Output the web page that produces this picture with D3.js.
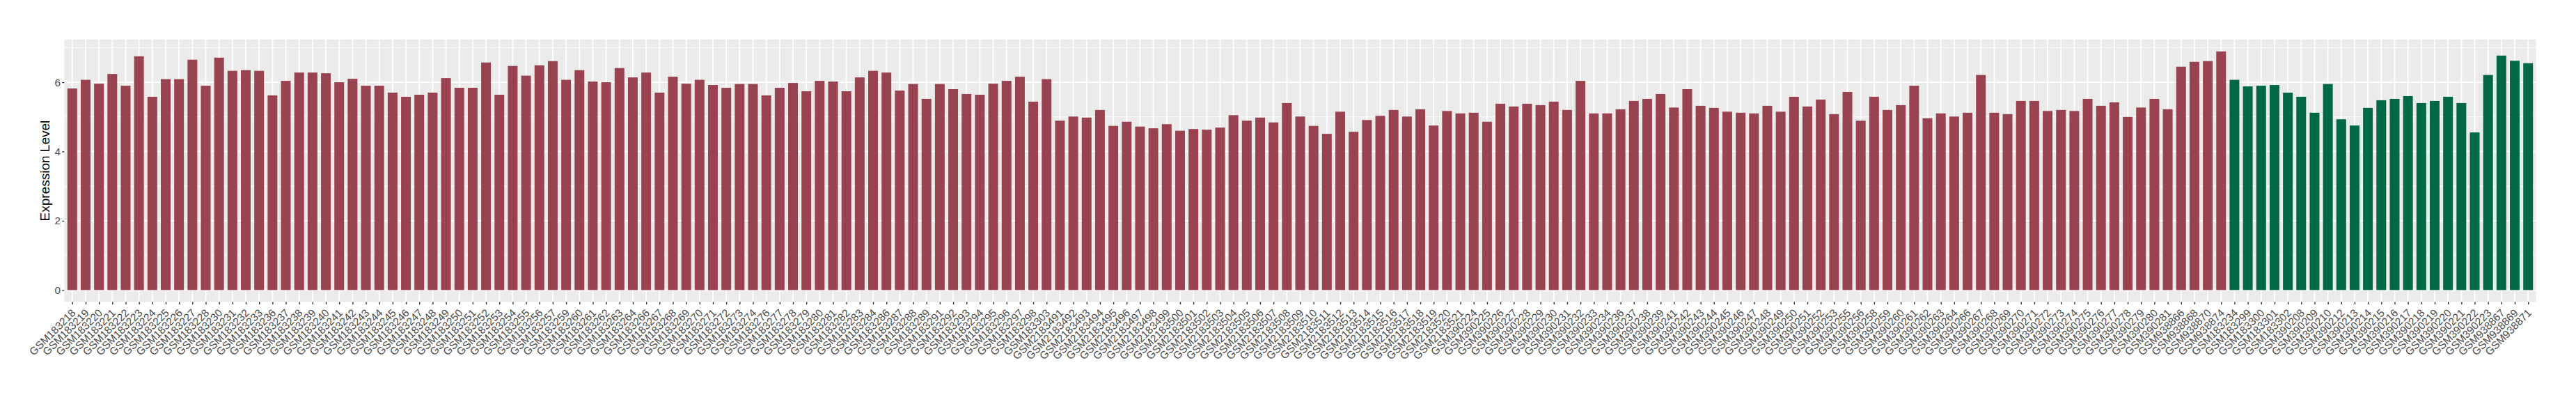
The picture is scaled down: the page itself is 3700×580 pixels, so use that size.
<!DOCTYPE html>
<html>
<head>
<meta charset="utf-8">
<script src="https://cdn.jsdelivr.net/npm/d3@7"></script>
<style>
  html, body { margin: 0; padding: 0; background: #ffffff; }
  svg { display: block; font-family: "Liberation Sans", Arial, Helvetica, sans-serif; }
</style>
</head>
<body>
<script>
// ---- Data ----
const redSamples = [
  "GSM183218","GSM183219","GSM183220","GSM183221","GSM183222","GSM183223","GSM183224","GSM183225","GSM183226","GSM183227",
  "GSM183228","GSM183230","GSM183231","GSM183232","GSM183233","GSM183236","GSM183237","GSM183238","GSM183239","GSM183240",
  "GSM183241","GSM183242","GSM183243","GSM183244","GSM183245","GSM183246","GSM183247","GSM183248","GSM183249","GSM183250",
  "GSM183251","GSM183252","GSM183253","GSM183254","GSM183255","GSM183256","GSM183257","GSM183259","GSM183260","GSM183261",
  "GSM183262","GSM183263","GSM183264","GSM183266","GSM183267","GSM183268","GSM183269","GSM183270","GSM183271","GSM183272",
  "GSM183273","GSM183274","GSM183276","GSM183277","GSM183278","GSM183279","GSM183280","GSM183281","GSM183282","GSM183283",
  "GSM183284","GSM183286","GSM183287","GSM183288","GSM183289","GSM183291","GSM183292","GSM183293","GSM183294","GSM183295",
  "GSM183296","GSM183297","GSM183298","GSM183303","GSM2183491","GSM2183492","GSM2183493","GSM2183494","GSM2183495","GSM2183496",
  "GSM2183497","GSM2183498","GSM2183499","GSM2183500","GSM2183501","GSM2183502","GSM2183503","GSM2183504","GSM2183505","GSM2183506",
  "GSM2183507","GSM2183508","GSM2183509","GSM2183510","GSM2183511","GSM2183512","GSM2183513","GSM2183514","GSM2183515","GSM2183516",
  "GSM2183517","GSM2183518","GSM2183519","GSM2183520","GSM2183521","GSM390224","GSM390225","GSM390226","GSM390227","GSM390228",
  "GSM390229","GSM390230","GSM390231","GSM390232","GSM390233","GSM390234","GSM390236","GSM390237","GSM390238","GSM390239",
  "GSM390241","GSM390242","GSM390243","GSM390244","GSM390245","GSM390246","GSM390247","GSM390248","GSM390249","GSM390250",
  "GSM390251","GSM390252","GSM390253","GSM390255","GSM390256","GSM390258","GSM390259","GSM390260","GSM390261","GSM390262",
  "GSM390263","GSM390264","GSM390266","GSM390267","GSM390268","GSM390269","GSM390270","GSM390271","GSM390272","GSM390273",
  "GSM390274","GSM390275","GSM390276","GSM390277","GSM390278","GSM390279","GSM390280","GSM390281","GSM938866","GSM938868",
  "GSM938870","GSM938874"
];
const redValues = [
  5.82,6.07,5.96,6.24,5.90,6.75,5.58,6.09,6.09,6.65,
  5.90,6.71,6.33,6.35,6.33,5.62,6.04,6.28,6.28,6.26,
  6.00,6.10,5.90,5.90,5.70,5.58,5.64,5.70,6.12,5.84,
  5.84,6.57,5.64,6.47,6.19,6.49,6.61,6.07,6.35,6.02,
  6.00,6.41,6.14,6.28,5.70,6.16,5.96,6.07,5.92,5.84,
  5.95,5.95,5.62,5.84,5.98,5.74,6.04,6.02,5.74,6.14,
  6.33,6.28,5.76,5.95,5.52,5.95,5.80,5.66,5.64,5.96,
  6.04,6.16,5.44,6.09,4.89,5.01,4.98,5.20,4.74,4.86,
  4.72,4.67,4.79,4.60,4.65,4.63,4.69,5.05,4.89,4.98,
  4.84,5.40,5.01,4.74,4.51,5.15,4.57,4.91,5.03,5.20,
  5.01,5.22,4.75,5.17,5.10,5.12,4.86,5.38,5.30,5.38,
  5.34,5.44,5.20,6.04,5.10,5.10,5.22,5.46,5.52,5.66,
  5.27,5.80,5.32,5.26,5.15,5.12,5.10,5.32,5.15,5.58,
  5.30,5.50,5.08,5.72,4.89,5.58,5.20,5.34,5.90,4.96,
  5.10,5.01,5.12,6.21,5.12,5.08,5.46,5.46,5.17,5.20,
  5.17,5.52,5.32,5.42,5.00,5.27,5.52,5.22,6.45,6.59,
  6.61,6.89
];
const greenSamples = [
  "GSM183234","GSM183299","GSM183300","GSM183301","GSM183302","GSM390208","GSM390209","GSM390210","GSM390212","GSM390213",
  "GSM390214","GSM390215","GSM390216","GSM390217","GSM390218","GSM390219","GSM390220","GSM390221","GSM390222","GSM390223",
  "GSM938867","GSM938869","GSM938871"
];
const greenValues = [
  6.07,5.88,5.90,5.92,5.70,5.58,5.12,5.95,4.93,4.75,
  5.26,5.48,5.52,5.60,5.40,5.46,5.58,5.40,4.55,6.21,
  6.77,6.62,6.55
];
const yTicks = [0, 2, 4, 6];
const yMinorTicks = [1, 3, 5, 7];
const yTitle = "Expression Level";
const redColor = "#9A4350";
const greenColor = "#006846";

// ---- Build rows ----
const rows = redSamples.map((s, i) => ({ s, v: redValues[i], c: redColor }))
  .concat(greenSamples.map((s, i) => ({ s, v: greenValues[i], c: greenColor })));

const W = 3700, H = 580;
const panel = { left: 92.3, right: 3642.7, top: 56.7, bottom: 433.5 };

const svg = d3.select("body").append("svg").attr("width", W).attr("height", H);

const x = d3.scalePoint().domain(rows.map(d => d.s))
  .range([panel.left, panel.right]).padding(0.6);
const step = x.step();
const barW = step * 0.73;

const vmax = d3.max(rows, d => d.v);
const y = d3.scaleLinear().domain([-0.05 * vmax, vmax * 1.05])
  .range([panel.bottom, panel.top]);

// panel background
svg.append("rect")
  .attr("x", panel.left).attr("y", panel.top)
  .attr("width", panel.right - panel.left).attr("height", panel.bottom - panel.top)
  .attr("fill", "#EBEBEB");

const grid = svg.append("g");
grid.selectAll("line.minor").data(yMinorTicks.filter(t => y(t) >= panel.top)).enter().append("line")
  .attr("x1", panel.left).attr("x2", panel.right)
  .attr("y1", d => y(d)).attr("y2", d => y(d))
  .attr("stroke", "#ffffff").attr("stroke-width", 0.9);
grid.selectAll("line.major").data(yTicks).enter().append("line")
  .attr("x1", panel.left).attr("x2", panel.right)
  .attr("y1", d => y(d)).attr("y2", d => y(d))
  .attr("stroke", "#ffffff").attr("stroke-width", 1.8);
grid.selectAll("line.vx").data(rows).enter().append("line")
  .attr("x1", d => x(d.s)).attr("x2", d => x(d.s))
  .attr("y1", panel.top).attr("y2", panel.bottom)
  .attr("stroke", "#ffffff").attr("stroke-width", 1.8);

// bars
svg.append("g").selectAll("rect").data(rows).enter().append("rect")
  .attr("x", d => x(d.s) - barW / 2)
  .attr("width", barW)
  .attr("y", d => y(Math.max(0, d.v)))
  .attr("height", d => Math.abs(y(d.v) - y(0)))
  .attr("fill", d => d.c);

// y axis
const yAxis = d3.axisLeft(y).tickValues(yTicks).tickFormat(d3.format("d")).tickSize(3.2).tickPadding(2);
const gy = svg.append("g").attr("transform", `translate(${panel.left},0)`).call(yAxis);
gy.select(".domain").remove();
gy.selectAll(".tick line").attr("stroke", "#333333").attr("stroke-width", 1.4);
gy.selectAll(".tick text").attr("fill", "#4D4D4D").style("font-size", "15.4px")
  .style("font-family", "'Liberation Sans', Arial, sans-serif");

// x axis
const xAxis = d3.axisBottom(x).tickSize(3.5).tickPadding(0);
const gx = svg.append("g").attr("transform", `translate(0,${panel.bottom})`).call(xAxis);
gx.select(".domain").remove();
gx.selectAll(".tick line").attr("stroke", "#333333").attr("stroke-width", 1.4);
gx.selectAll(".tick text")
  .attr("fill", "#4D4D4D")
  .style("font-size", "15.4px")
  .style("font-family", "'Liberation Sans', Arial, sans-serif")
  .attr("text-anchor", "end")
  .attr("y", 0).attr("dy", "0.72em")
  .attr("transform", "translate(-2.5,8.8) rotate(-45)");

// y title
svg.append("text")
  .attr("transform", `translate(70.8,${(panel.top + panel.bottom) / 2}) rotate(-90)`)
  .attr("text-anchor", "middle")
  .style("font-size", "19px")
  .attr("fill", "#000000")
  .text(yTitle);
</script>
</body>
</html>
